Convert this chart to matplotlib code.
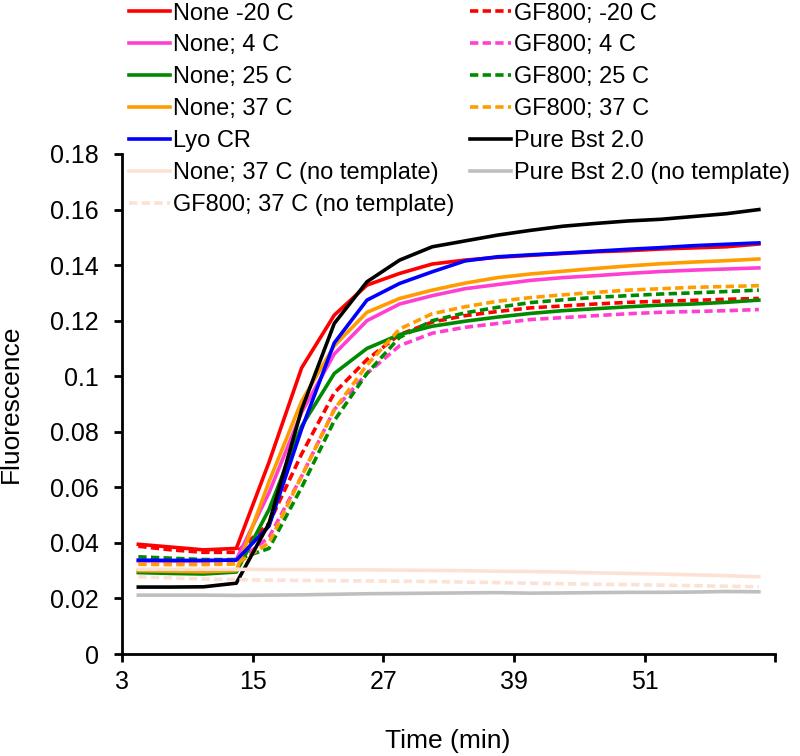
import numpy as np
import matplotlib
matplotlib.use("Agg")
import matplotlib.pyplot as plt

plt.rcParams['font.family'] = ['Liberation Sans', 'DejaVu Sans']

times = [3, 6, 9, 12, 15, 18, 21, 24, 27, 30, 33, 36, 39, 42, 45, 48, 51, 54, 57, 60]

none_m20 = [0.0395, 0.0385, 0.0375, 0.0380, 0.069, 0.103, 0.122, 0.1328, 0.137, 0.1404,
            0.1418, 0.1428, 0.1435, 0.1442, 0.1448, 0.1452, 0.1458, 0.1462, 0.1466, 0.1476]
gf_m20 = [0.0388, 0.0375, 0.0366, 0.0366, 0.047, 0.072, 0.094, 0.106, 0.115, 0.1195,
          0.1218, 0.1233, 0.1246, 0.1253, 0.1260, 0.1266, 0.1270, 0.1273, 0.1277, 0.1280]
none_4 = [0.0335, 0.0335, 0.0335, 0.0340, 0.058, 0.087, 0.108, 0.120, 0.126, 0.129,
          0.1315, 0.1330, 0.1345, 0.1355, 0.1362, 0.1370, 0.1377, 0.1382, 0.1386, 0.1390]
gf_4 = [0.0335, 0.0330, 0.0328, 0.0330, 0.042, 0.064, 0.088, 0.101, 0.111, 0.1155,
        0.1176, 0.1190, 0.1204, 0.1211, 0.1218, 0.1225, 0.1230, 0.1233, 0.1236, 0.1240]
none_25 = [0.0293, 0.0290, 0.0288, 0.0295, 0.052, 0.082, 0.101, 0.110, 0.115, 0.118,
           0.1198, 0.1213, 0.1226, 0.1236, 0.1243, 0.1250, 0.1256, 0.1260, 0.1266, 0.1274]
gf_25 = [0.0350, 0.0345, 0.0340, 0.0340, 0.038, 0.060, 0.084, 0.101, 0.114, 0.120,
         0.1228, 0.1248, 0.1265, 0.1275, 0.1284, 0.1290, 0.1296, 0.1300, 0.1305, 0.1310]
none_37 = [0.0300, 0.0298, 0.0296, 0.0300, 0.062, 0.091, 0.111, 0.123, 0.128, 0.131,
           0.1335, 0.1355, 0.1368, 0.1378, 0.1388, 0.1397, 0.1405, 0.1411, 0.1416, 0.1422]
gf_37 = [0.0323, 0.0322, 0.0322, 0.0324, 0.040, 0.064, 0.088, 0.104, 0.117, 0.1225,
         0.1250, 0.1270, 0.1283, 0.1293, 0.1302, 0.1310, 0.1315, 0.1320, 0.1323, 0.1326]
lyo_cr = [0.0338, 0.0337, 0.0337, 0.0338, 0.046, 0.081, 0.112, 0.1274, 0.1334, 0.1376,
          0.1415, 0.1430, 0.1437, 0.1443, 0.1450, 0.1457, 0.1463, 0.1470, 0.1475, 0.1480]
pure_bst = [0.0241, 0.0241, 0.0242, 0.0255, 0.047, 0.088, 0.119, 0.134, 0.1418, 0.1466,
            0.1487, 0.1508, 0.1525, 0.1540, 0.1550, 0.1559, 0.1565, 0.1575, 0.1585, 0.1600]
none_37_nt = [0.0305, 0.0305, 0.0305, 0.0305, 0.0304, 0.0304, 0.0303, 0.0303, 0.0302, 0.0301,
              0.0300, 0.0298, 0.0297, 0.0295, 0.0292, 0.0290, 0.0288, 0.0285, 0.0282, 0.0278]
gf_37_nt = [0.0278, 0.0274, 0.0270, 0.0268, 0.0266, 0.0265, 0.0264, 0.0263, 0.0262, 0.0261,
            0.0259, 0.0257, 0.0255, 0.0253, 0.0251, 0.0250, 0.0248, 0.0246, 0.0244, 0.0242]
pure_bst_nt = [0.0212, 0.0212, 0.0212, 0.0211, 0.0212, 0.0213, 0.0215, 0.0217, 0.0218, 0.0219,
               0.0220, 0.0221, 0.0219, 0.0220, 0.0221, 0.0222, 0.0222, 0.0223, 0.0225, 0.0224]

labels_left = ["None -20 C", "None; 4 C", "None; 25 C", "None; 37 C", "Lyo CR",
               "None; 37 C (no template)", "GF800; 37 C (no template)"]
labels_right = ["GF800; -20 C", "GF800; 4 C", "GF800; 25 C", "GF800; 37 C", "Pure Bst 2.0",
                "Pure Bst 2.0 (no template)"]

RED = "#ff0000"
MAG = "#ff3fd2"
GRN = "#008a00"
ORG = "#ff9c00"
BLU = "#0000ff"
BLK = "#000000"
PEACH = "#fbe2d5"
GRY = "#bfbfbf"
DASH = (0, (2.3, 1.2))

fig = plt.figure(figsize=(8.0, 7.56), dpi=100)
ax = fig.add_axes([0.1525, 0.1349, 0.8165, 0.6614])

x = np.arange(len(times))
lw = 2.6
series = [
    (none_m20, labels_left[0], RED, '-'),
    (gf_m20, labels_right[0], RED, DASH),
    (none_4, labels_left[1], MAG, '-'),
    (gf_4, labels_right[1], MAG, DASH),
    (none_25, labels_left[2], GRN, '-'),
    (gf_25, labels_right[2], GRN, DASH),
    (none_37, labels_left[3], ORG, '-'),
    (gf_37, labels_right[3], ORG, DASH),
    (lyo_cr, labels_left[4], BLU, '-'),
    (pure_bst, labels_right[4], BLK, '-'),
    (none_37_nt, labels_left[5], PEACH, '-'),
    (pure_bst_nt, labels_right[5], GRY, '-'),
    (gf_37_nt, labels_left[6], PEACH, DASH),
]
handles = {}
for ys, lab, col, ls in series:
    h, = ax.plot(x, ys, color=col, linestyle=ls, linewidth=lw, label=lab)
    handles[lab] = h

ax.set_ylim(0, 0.18)
ax.set_xlim(-0.5, len(times) - 0.5)
yt = np.arange(0, 0.181, 0.02)
ax.set_yticks(yt)
ax.set_yticklabels(["0" if v == 0 else ("%g" % round(v, 2)) for v in yt])
xt = np.arange(-0.5, len(times), 4)
ax.set_xticks(xt)
ax.set_xticklabels([str(t) for t in times[::4]] + [""] * (len(xt) - len(times[::4])))

for s in ['top', 'right']:
    ax.spines[s].set_visible(False)
for s in ['left', 'bottom']:
    ax.spines[s].set_linewidth(2.0)
ax.tick_params(axis='both', direction='out', length=5.5, width=2.0, labelsize=18)
ax.tick_params(axis='y', pad=11)
ax.tick_params(axis='x', pad=6)

fig.text(11 / 800, 1 - 404 / 756, "Fluorescence", rotation=90, ha='center', va='center',
         fontsize=19)
fig.text(448 / 800, 1 - 741 / 756, "Time (min)", ha='center', va='center', fontsize=19)

order = labels_left + labels_right
leg = fig.legend([handles[l] for l in order], order, ncol=2, loc='upper left',
                 bbox_to_anchor=(0.152, 1.006), frameon=False, fontsize=17,
                 handlelength=1.75, handletextpad=0.13, labelspacing=0.42,
                 columnspacing=0.65, borderaxespad=0.0, borderpad=0.3)

fig.savefig("out.png", dpi=100)
